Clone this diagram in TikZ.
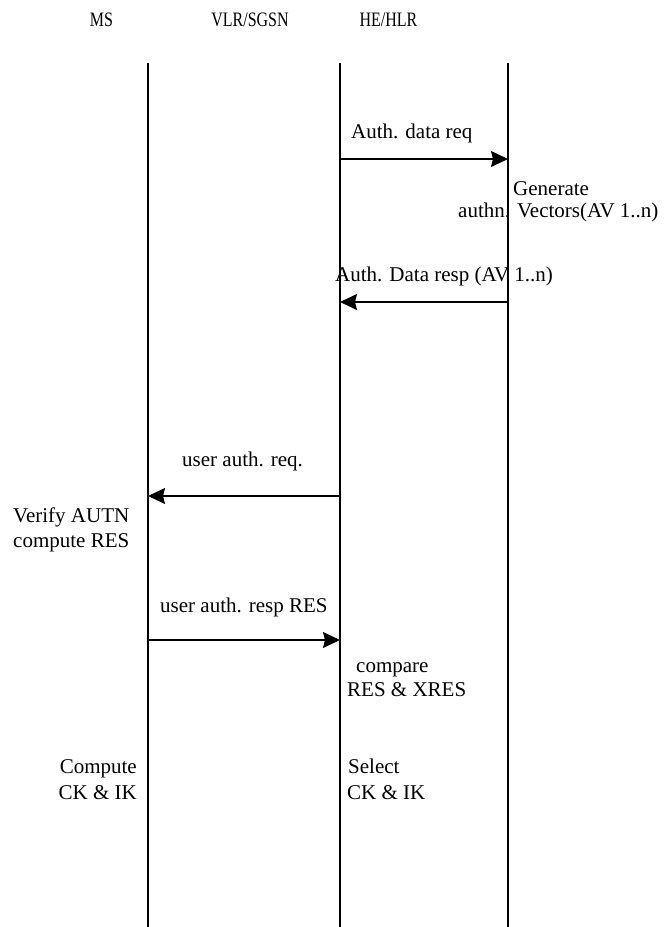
\documentclass[tikz,border=0pt]{standalone}
\usepackage{fontspec}
\setmainfont{Liberation Serif}
\usetikzlibrary{arrows.meta}
\tikzset{
  life/.style={line width=1.3pt},
  msg/.style={line width=1.4pt,-{Stealth[length=17pt,width=16pt,inset=2pt]}},
  lbl/.style={inner sep=0pt,font=\fontsize{21}{25}\selectfont},
  header/.style={inner sep=0pt,font=\fontsize{20.5}{24}\selectfont},
}
\begin{document}
\begin{tikzpicture}[x=1pt,y=-1pt]
\useasboundingbox (0,0) rectangle (667,927);
% headers
\node[header,anchor=base] (hms) at (101.5,26) {\scalebox{0.78}[1]{MS}};
\node[header,anchor=base] (hvlr) at (250,26) {\scalebox{0.78}[1]{VLR/SGSN}};
\node[header,anchor=base] (hhlr) at (388.5,26) {\scalebox{0.78}[1]{HE/HLR}};
% lifelines
\coordinate (ms-top) at (148,63);
\coordinate (ms-bot) at (148,927);
\coordinate (vlr-top) at (340,63);
\coordinate (vlr-bot) at (340,927);
\coordinate (hlr-top) at (508,63);
\coordinate (hlr-bot) at (508,927);
\draw[life] (ms-top) -- (ms-bot);
\draw[life] (vlr-top) -- (vlr-bot);
\draw[life] (hlr-top) -- (hlr-bot);
% message points
\coordinate (v1) at (340,159);
\coordinate (h1) at (508,159);
\coordinate (h2) at (508,302);
\coordinate (v2) at (340,302);
\coordinate (v3) at (340,496);
\coordinate (m3) at (148,496);
\coordinate (m4) at (148,640);
\coordinate (v4) at (340,640);
\draw[msg] (v1) -- (h1);
\draw[msg] (h2) -- (v2);
\draw[msg] (v3) -- (m3);
\draw[msg] (m4) -- (v4);
% labels
\node[lbl,anchor=base west] (l1) at (351,138) {Auth. data req};
\node[lbl,anchor=base west] (g1) at (513,195) {Generate};
\node[lbl,anchor=base west] (g2) at (458,217) {authn. Vectors(AV 1..n)};
\node[lbl,anchor=base west] (l2) at (335,281) {Auth. Data resp (AV 1..n)};
\node[lbl,anchor=base west] (l3) at (182,466) {user auth. req.};
\node[lbl,anchor=base west] (va1) at (13,522) {Verify AUTN};
\node[lbl,anchor=base west] (va2) at (13,547) {compute RES};
\node[lbl,anchor=base west] (l4) at (160,612) {user auth. resp RES};
\node[lbl,anchor=base west] (c1) at (356,672) {compare};
\node[lbl,anchor=base west] (c2) at (347,696) {RES \& XRES};
\node[lbl,anchor=base east] (k1) at (137,773) {Compute};
\node[lbl,anchor=base east] (k2) at (137,799) {CK \& IK};
\node[lbl,anchor=base west] (s1) at (348,773) {Select};
\node[lbl,anchor=base west] (s2) at (347,799) {CK \& IK};
\end{tikzpicture}
\end{document}
